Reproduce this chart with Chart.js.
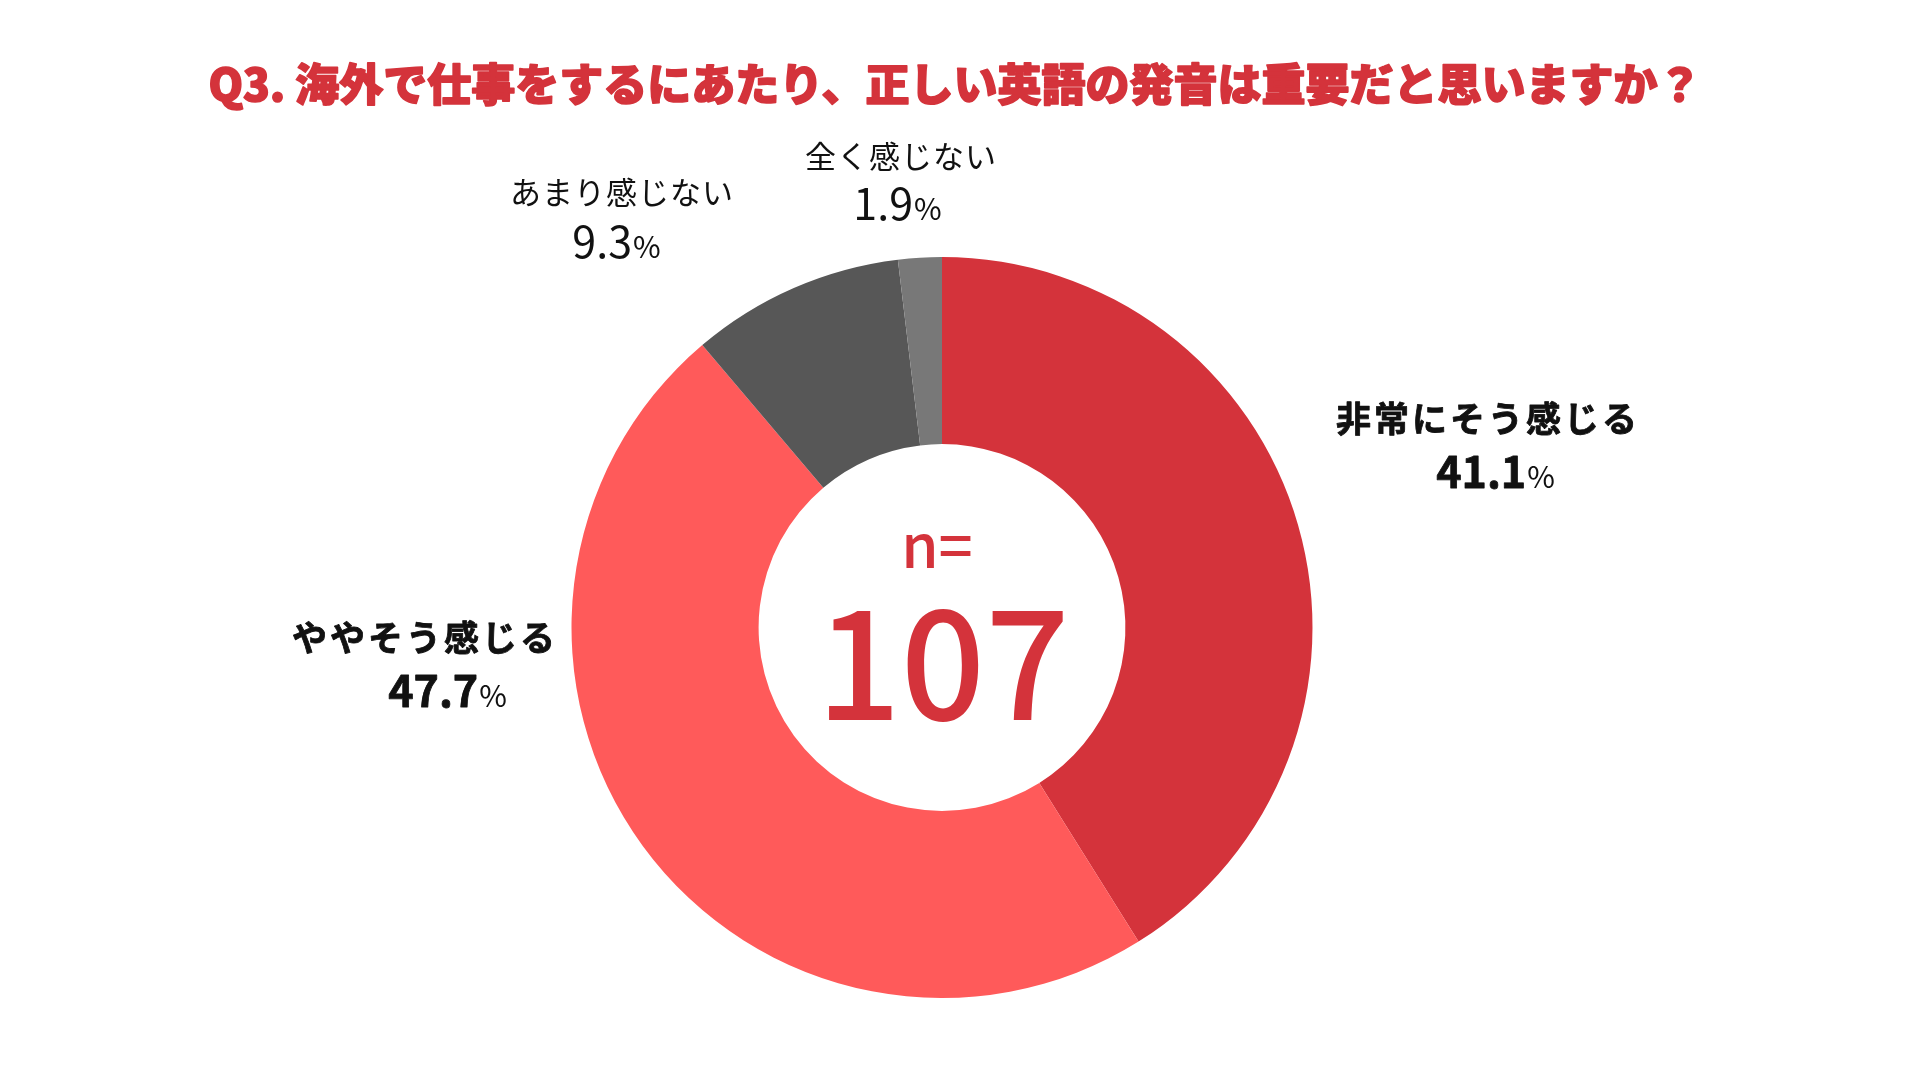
<!DOCTYPE html>
<html lang="ja">
<head>
<meta charset="utf-8">
<title>Q3</title>
<script src="https://cdn.jsdelivr.net/npm/chart.js@4"></script>
<style>
  html, body { margin: 0; padding: 0; background: #fff; }
  #wrap { width: 1920px; height: 1080px; position: relative; }
</style>
</head>
<body>
<div id="wrap"><canvas id="q3Chart" width="1920" height="1080"></canvas></div>
<script>
// データ
const categories = ['非常にそう感じる', 'ややそう感じる', 'あまり感じない', '全く感じない'];
const percents = [41.1, 47.7, 9.3, 1.9];
const sampleSize = 107;
const titleText = 'Q3. 海外で仕事をするにあたり、正しい英語の発音は重要だと思いますか？';

const COLORS = ['#d4333b', '#ff5a5a', '#575757', '#787878'];
const FONT = '"Noto Sans CJK JP", "Noto Sans", sans-serif';

// ラベルの配置（ドーナツ中心からのずれ）と書式
const labelLayout = [
  { dx: 546, dy: -209, vdx: 7, vdy: 53, bold: true },
  { dx: -517, dy: 10, vdx: 22, vdy: 53, bold: true },
  { dx: -320, dy: -435, vdx: -6, vdy: 49, bold: false },
  { dx: -41, dy: -471, vdx: -4, vdy: 47, bold: false }
];

function drawValue(ctx, value, cx, cy, bold) {
  const num = value.toFixed(1);
  const numFont = (bold ? '700 ' : '400 ') + '43px ' + FONT;
  const pctFont = '400 30px ' + FONT;
  ctx.letterSpacing = '0px';
  ctx.font = numFont;
  const w1 = ctx.measureText(num).width;
  ctx.font = pctFont;
  const w2 = ctx.measureText('%').width;
  const left = cx - (w1 + w2) / 2;
  ctx.textAlign = 'left';
  ctx.textBaseline = 'alphabetic';
  ctx.font = numFont;
  ctx.fillText(num, left, cy + 16);
  if (bold) {
    ctx.lineWidth = 0.8;
    ctx.strokeText(num, left, cy + 16);
  }
  ctx.font = pctFont;
  ctx.fillText('%', left + w1 + 1, cy + 16);
}

const textPlugin = {
  id: 'q3Text',
  afterDraw(chart) {
    const ctx = chart.ctx;
    const arc = chart.getDatasetMeta(0).data[0];
    const cx = arc.x;
    const cy = arc.y;
    ctx.save();

    // タイトル
    ctx.fillStyle = '#d4333b';
    ctx.strokeStyle = '#d4333b';
    ctx.lineWidth = 1.6;
    ctx.lineJoin = 'round';
    ctx.font = '900 44px ' + FONT;
    ctx.textAlign = 'center';
    ctx.textBaseline = 'middle';
    ctx.fillText(titleText, 955, 84);
    ctx.strokeText(titleText, 955, 84);

    // 各ラベル
    ctx.fillStyle = '#111';
    ctx.strokeStyle = '#111';
    categories.forEach((name, i) => {
      const l = labelLayout[i];
      const x = cx + l.dx;
      const y = cy + l.dy;
      ctx.font = (l.bold ? '700 35px ' : '400 31px ') + FONT;
      ctx.letterSpacing = l.bold ? '3px' : '1px';
      ctx.textAlign = 'center';
      ctx.textBaseline = 'middle';
      ctx.fillText(name, x, y);
      if (l.bold) {
        ctx.lineWidth = 0.8;
        ctx.strokeText(name, x, y);
      }
      drawValue(ctx, percents[i], x + l.vdx, y + l.vdy, l.bold);
    });

    // 中央の n=
    ctx.letterSpacing = '0px';
    ctx.fillStyle = '#d4333b';
    ctx.textAlign = 'center';
    ctx.textBaseline = 'alphabetic';
    ctx.font = '500 60px ' + FONT;
    ctx.fillText('n=', cx - 5, cy - 60);
    ctx.font = '500 148px ' + FONT;
    ctx.fillText(String(sampleSize), cx + 1, cy + 92);
    ctx.restore();
  }
};

document.addEventListener('DOMContentLoaded', function() {
  const ctx = document.getElementById('q3Chart').getContext('2d');
  new Chart(ctx, {
    type: 'doughnut',
    data: {
      labels: categories,
      datasets: [{
        data: percents,
        backgroundColor: COLORS,
        borderWidth: 0,
        hoverOffset: 0
      }]
    },
    options: {
      responsive: false,
      animation: false,
      devicePixelRatio: 1,
      cutout: '49.5%',
      rotation: 0,
      layout: {
        padding: { top: 257, bottom: 82, left: 0, right: 36 }
      },
      plugins: {
        legend: { display: false },
        tooltip: { enabled: false },
        title: { display: false }
      }
    },
    plugins: [textPlugin]
  });
});
</script>
</body>
</html>
